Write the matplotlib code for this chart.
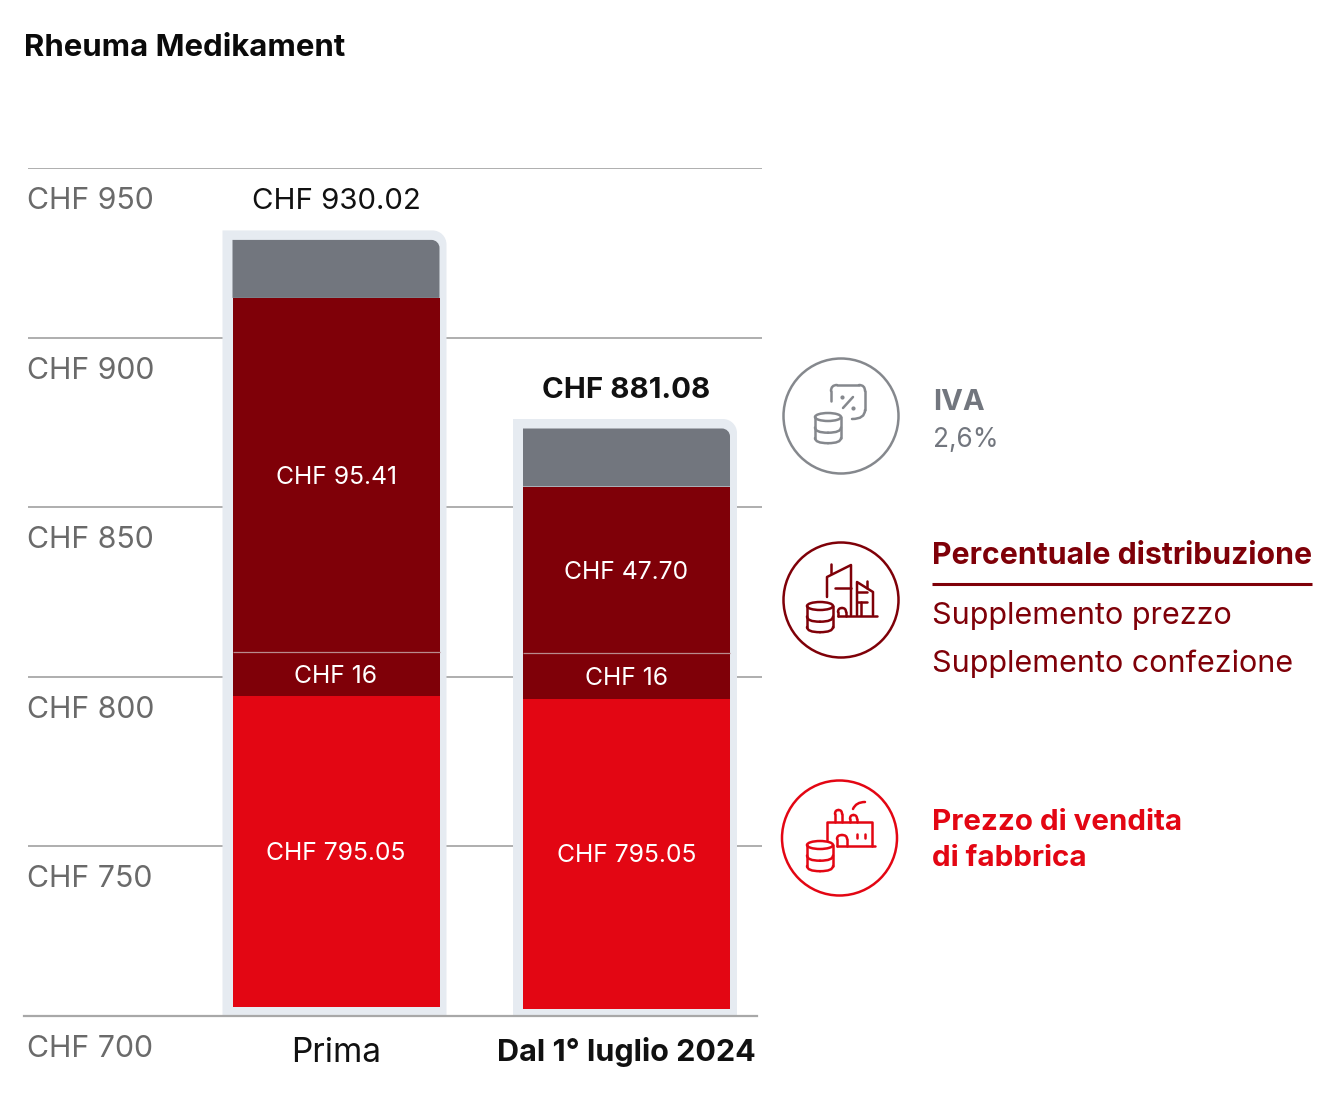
import matplotlib
matplotlib.use("Agg")
import matplotlib.pyplot as plt
from matplotlib.path import Path
from matplotlib.patches import PathPatch, Circle, Ellipse
from matplotlib.transforms import ScaledTranslation

FONT = ['Inter', 'DejaVu Sans']
plt.rcParams['font.family'] = FONT

# ---- data
categories = ['Prima', 'Dal 1° luglio 2024']
totals = ['CHF 930.02', 'CHF 881.08']
bar_base = [702.65, 702.06]
factory_top = [794.2, 793.6]
packaging_top = [807.2, 806.9]
distribution_top = [911.7, 856.1]
vat_top = [928.8, 873.2]
factory_labels = ['CHF 795.05', 'CHF 795.05']
packaging_labels = ['CHF 16', 'CHF 16']
distribution_labels = ['CHF 95.41', 'CHF 47.70']
y_ticks = [700, 750, 800, 850, 900, 950]
y_tick_labels = ['CHF 700', 'CHF 750', 'CHF 800', 'CHF 850', 'CHF 900', 'CHF 950']

RED = '#E30613'
DARK = '#7F0008'
GREY = '#72767E'
FRAME = '#E6EBF1'
LINE = '#A8A8A8'
AXTXT = '#6A6A6A'

W, H = 1344, 1097
fig = plt.figure(figsize=(W / 100, H / 100), dpi=100, facecolor='white')
L, R, T, B = 28, 762, 168, 1016
ax = fig.add_axes([L / W, 1 - B / H, (R - L) / W, (B - T) / H])
x_per_unit = 290.5
ax.set_xlim((L - 336) / x_per_unit, (R - 336) / x_per_unit)
ax.set_ylim(700, 950)
y_per_unit = (B - T) / 250
bar_w = 207 / x_per_unit
frame_l = 10 / x_per_unit
frame_r = 7 / x_per_unit
frame_t = 9.5 / y_per_unit


def top_round(x0, x1, y0, y1, rpx, color, z):
    rx, ry = rpx / x_per_unit, rpx / y_per_unit
    k = 0.45
    verts = [(x0, y0), (x0, y1), (x1 - rx, y1),
             (x1 - rx * k, y1), (x1, y1 - ry * k), (x1, y1 - ry),
             (x1, y0), (x0, y0)]
    codes = [Path.MOVETO, Path.LINETO, Path.LINETO,
             Path.CURVE4, Path.CURVE4, Path.CURVE4,
             Path.LINETO, Path.CLOSEPOLY]
    ax.add_patch(PathPatch(Path(verts, codes), fc=color, ec='none', lw=0, zorder=z))


xs = list(range(len(categories)))
for i in xs:
    xl, xr = i - bar_w / 2, i + bar_w / 2
    top_round(xl - frame_l, xr + frame_r, 690, vat_top[i] + frame_t, 14, FRAME, 2)
    ax.bar(i, factory_top[i] - bar_base[i], bottom=bar_base[i], width=bar_w, color=RED, zorder=3)
    ax.bar(i, packaging_top[i] - factory_top[i], bottom=factory_top[i], width=bar_w, color=DARK, zorder=3)
    ax.bar(i, distribution_top[i] - packaging_top[i], bottom=packaging_top[i], width=bar_w, color=DARK, zorder=3)
    ax.plot([xl, xr], [packaging_top[i]] * 2, color='#B98A8D', lw=0.9, zorder=4, solid_capstyle='butt')
    top_round(xl, xr, distribution_top[i], vat_top[i], 8, GREY, 3)
    for lo, hi, txt in [(bar_base[i], factory_top[i], factory_labels[i]),
                        (factory_top[i], packaging_top[i], packaging_labels[i]),
                        (packaging_top[i], distribution_top[i], distribution_labels[i])]:
        ax.annotate(txt, (i, (lo + hi) / 2), xytext=(0, -1.5), textcoords='offset points',
                    color='white', ha='center', va='center', fontsize=17.8, zorder=5)
    ax.annotate(totals[i], (i, vat_top[i]), xytext=(0, 38 * 0.72), textcoords='offset points',
                ha='center', va='center', fontsize=21.2, color='#111111',
                fontweight='bold' if i == 1 else 'normal', zorder=5)

ax.set_yticks(y_ticks)
ax.set_yticklabels(y_tick_labels, fontsize=21.8, color=AXTXT, ha='left')
ax.set_xticks(xs)
ax.set_xticklabels(categories, fontsize=24, color='#111111')
ax.get_xticklabels()[1].set_fontweight('bold')
ax.get_xticklabels()[1].set_fontsize(22)
ax.tick_params(axis='both', length=0)
ax.tick_params(axis='y', pad=1)
ax.tick_params(axis='x', pad=15)
ax.grid(axis='y', color=LINE, lw=1.3)
ax.set_axisbelow(True)
ax.yaxis.get_gridlines()[0].set_visible(False)
for s in ['top', 'left', 'right']:
    ax.spines[s].set_visible(False)
sp = ax.spines['bottom']
sp.set_color(LINE)
sp.set_linewidth(1.6)
sp.set_bounds((24 - 336) / x_per_unit, (757 - 336) / x_per_unit)
sp.set_zorder(6)
shift = ScaledTranslation(0, -30 / 100, fig.dpi_scale_trans)
for t in ax.yaxis.get_major_ticks():
    t.label1.set_transform(t.label1.get_transform() + shift)

# ---- overlay in pixel coordinates: title, legend, icons
ov = fig.add_axes([0, 0, 1, 1], facecolor='none')
ov.set_xlim(0, W)
ov.set_ylim(H, 0)
ov.axis('off')

ov.text(24, 48, 'Rheuma Medikament', fontsize=22.4, fontweight='bold', color='#0A0A0A', va='center')
ov.text(933, 402, 'IVA', fontsize=21, fontweight='bold', color=GREY, va='center')
ov.text(933, 440, '2,6%', fontsize=18.9, color=GREY, va='center')
ov.text(932, 556, 'Percentuale distribuzione', fontsize=21.75, fontweight='bold', color=DARK, va='center')
ov.plot([932, 1312], [584, 584], color=DARK, lw=2.2, solid_capstyle='butt')
ov.text(932, 616, 'Supplemento prezzo', fontsize=22, color=DARK, va='center')
ov.text(932, 664, 'Supplemento confezione', fontsize=22, color=DARK, va='center')
ov.text(932, 823, 'Prezzo di vendita', fontsize=21.3, fontweight='bold', color=RED, va='center')
ov.text(932, 858, 'di fabbrica', fontsize=21.3, fontweight='bold', color=RED, va='center')

ICON_LW = 1.8


def stroke(pts, color, lw=ICON_LW, curved=False):
    if curved:
        codes = [Path.MOVETO] + [Path.CURVE3] * (len(pts) - 1)
        ov.add_patch(PathPatch(Path(pts, codes), fc='none', ec=color, lw=lw, capstyle='round', joinstyle='round'))
    else:
        xx, yy = zip(*pts)
        ov.plot(xx, yy, color=color, lw=lw, solid_capstyle='round', solid_joinstyle='round')


def cylinder(x0, x1, y0, y1, color):
    cx = (x0 + x1) / 2
    ry = 4
    n = 2
    ys = [y0 + ry + (y1 - y0 - 2 * ry - 2) * j / n for j in range(n + 1)]
    ov.add_patch(Ellipse((cx, ys[0]), x1 - x0, 2 * ry, fc='none', ec=color, lw=ICON_LW))
    for yy in ys[1:]:
        stroke([(x0, yy), (x0, yy + ry * 1.3), (cx, yy + ry * 1.3)], color, curved=True)
        stroke([(cx, yy + ry * 1.3), (x1, yy + ry * 1.3), (x1, yy)], color, curved=True)
    stroke([(x0, ys[0]), (x0, ys[-1])], color)
    stroke([(x1, ys[0]), (x1, ys[-1])], color)


def arch(x0, x1, y_base, y_top, color):
    stroke([(x0, y_base), (x0, y_top + 4)], color)
    stroke([(x0, y_top + 4), (x0, y_top), ((x0 + x1) / 2, y_top)], color, curved=True)
    stroke([((x0 + x1) / 2, y_top), (x1, y_top), (x1, y_top + 4)], color, curved=True)
    stroke([(x1, y_top + 4), (x1, y_base)], color)


# VAT icon
c = '#85888D'
ov.add_patch(Circle((841, 416), 57.5, fc='none', ec=c, lw=1.8))
cylinder(815, 841, 413, 444, c)
stroke([(831, 401), (831, 391)], c)
stroke([(831, 391), (831, 385), (837, 385)], c, curved=True)
stroke([(837, 385), (859, 385)], c)
stroke([(859, 385), (865, 385), (865, 391)], c, curved=True)
stroke([(865, 391), (865, 410)], c)
stroke([(865, 410), (865, 419), (852, 419)], c, curved=True)
stroke([(843, 408), (853, 397)], c)
ov.plot([842, 853], [397, 408], ls='none', marker='o', ms=2, color=c)

# distribution icon
c = DARK
ov.add_patch(Circle((841, 600), 57.5, fc='none', ec=c, lw=1.8))
cylinder(807, 833, 602, 633, c)
stroke([(827, 597), (827, 577), (851, 565), (851, 615)], c)
stroke([(831, 564), (831, 573)], c)
stroke([(835, 588), (851, 588)], c)
stroke([(857, 615), (857, 582), (873, 592), (873, 615)], c)
stroke([(867, 581), (867, 588)], c)
stroke([(857, 592), (867, 592)], c)
stroke([(857, 602), (867, 602)], c)
stroke([(861, 602), (861, 615)], c)
stroke([(838, 616), (877, 616)], c)
arch(838, 846, 616, 608, c)

# factory icon
c = RED
ov.add_patch(Circle((839.5, 838), 57.5, fc='none', ec=c, lw=1.8))
cylinder(807, 833, 841, 872, c)
stroke([(827, 840), (827, 822), (872, 822), (872, 846)], c)
stroke([(837, 846), (875, 846)], c)
arch(837, 847, 846, 835, c)
stroke([(857, 834), (857, 838)], c)
stroke([(865, 834), (865, 838)], c)
arch(835, 842, 822, 810, c)
arch(850, 857, 822, 815, c)
stroke([(853, 809), (856, 802), (865, 802)], c, curved=True)

fig.savefig('out.png', dpi=100)
